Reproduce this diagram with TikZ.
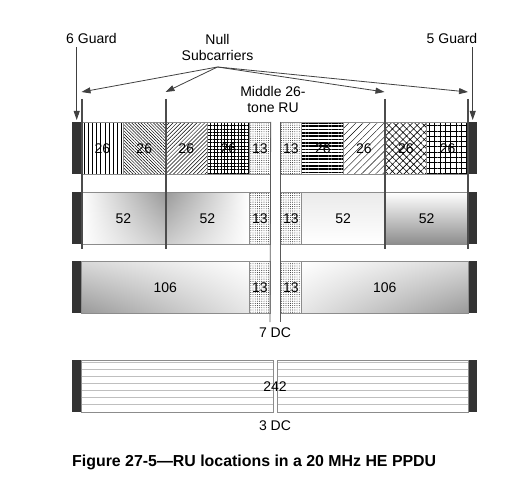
\documentclass[tikz,border=0pt]{standalone}
\usepackage{fontspec}
\setmainfont{Liberation Sans}
\usetikzlibrary{patterns.meta,arrows.meta,shadings}

\begin{document}
\begin{tikzpicture}[x=1pt,y=-1pt,
  txt/.style={font=\fontsize{14}{16.5}\selectfont},
  ru/.style={txt,draw=black!45,line width=0.7pt,inner sep=0pt,minimum height=52pt,anchor=north west},
  guard/.style={fill=black!80,inner sep=0pt,minimum width=9pt,minimum height=52pt,anchor=north west},
  tone/.style={ru,minimum width=21pt,pattern={Dots[radius=0.45pt,distance=2.2pt]}},
  pa/.style={pattern={Lines[angle=90,distance=4.2pt,line width=1pt]}},
  pb/.style={pattern={Lines[angle=-45,distance=2.2pt,line width=0.5pt]}},
  pc/.style={pattern={Lines[angle=45,distance=2.8pt,line width=0.5pt]}},
  pd/.style={pattern={Hatch[angle=0,distance=3.4pt,line width=0.9pt]}},
  pe/.style={pattern={Lines[angle=0,distance=3.3pt,line width=1.6pt]}},
  pf/.style={pattern={Lines[angle=45,distance=5pt,line width=0.4pt]}},
  pg/.style={pattern={Hatch[angle=45,distance=5pt,line width=0.6pt]}},
  ph/.style={pattern={Hatch[angle=0,distance=5.3pt,line width=0.6pt]}},
  nul/.style={black!70,line width=2pt},
  dc/.style={black!65,line width=0.8pt},
  arr/.style={black!75,line width=0.8pt,-{Triangle[length=9pt,width=6pt]}}]
  \useasboundingbox (0,0) rectangle (513,486);
  \foreach \r/\y in {1/122,2/192,3/261,4/360} {
    \node[guard] (gl\r) at (72,\y) {};
    \node[guard] (gr\r) at (468,\y) {};
  }
  \foreach \n/\x/\p in {a/81/pa,b/123/pb,c/165/pc,d/207/pd,e/301/pe,f/342.75/pf,g/384.5/pg,h/426.25/ph}
    \node[ru,\p,minimum width=42pt] (r1\n) at (\x,122) {26};
  \node[tone] (t1l) at (249,122) {13};
  \node[tone] (t1r) at (280,122) {13};

  \node[ru,shade,minimum width=84pt,upper left=white,upper right=black!40,lower left=white,lower right=black!20] (r2a) at (81,192) {52};
  \node[ru,shade,minimum width=84pt,upper left=black!40,upper right=white,lower left=black!20,lower right=white] (r2b) at (165,192) {52};
  \node[tone] (t2l) at (249,192) {13};
  \node[tone] (t2r) at (280,192) {13};
  \node[ru,shade,minimum width=83.5pt,top color=black!8,middle color=black!50,bottom color=white] (r2c) at (301,192) {52};
  \node[ru,shade,minimum width=83.5pt,top color=white,bottom color=black!45] (r2d) at (384.5,192) {52};

  \node[ru,shade,minimum width=168pt,upper left=black!15,upper right=white,lower left=black!40,lower right=black!10] (r3a) at (81,261) {106};
  \node[tone] (t3l) at (249,261) {13};
  \node[tone] (t3r) at (280,261) {13};
  \node[ru,shade,minimum width=167pt,upper left=white,upper right=black!15,lower left=black!10,lower right=black!40] (r3b) at (301,261) {106};

  \node[ru,minimum width=192pt] (r4a) at (81,360) {};
  \node[ru,minimum width=191pt] (r4b) at (277,360) {};
  \foreach \k in {0,...,6}
    \draw[black!25,line width=0.6pt] (81.5,362.5+7*\k) -- (272.5,362.5+7*\k) (277.5,362.5+7*\k) -- (467.5,362.5+7*\k);
  \node[txt] (l242) at (275,386.5) {242};

  \coordinate (dcl) at (270,322);
  \coordinate (dcr) at (280,322);
  \draw[dc] (t1l.north east) -- (dcl);
  \draw[dc] (t1r.north west) -- (dcr);
  \node[txt] (dc7) at (275,333) {7 DC};
  \node[txt] (dc3) at (275,426) {3 DC};

  \foreach \i/\x in {1/81.5,2/165.5,3/384.5,4/468} {
    \draw[nul] (\x,99) -- (\x,249);
    \coordinate (ns\i) at (\x,92);
  }
  \node[txt,align=center,inner xsep=0pt,inner ysep=6pt,anchor=north] (null) at (217.5,27.8) {Null\\Subcarriers};
  \foreach \i in {1,...,4}
    \draw[arr] (null.south) -- (ns\i);
  \node[txt,align=center,inner sep=0pt,anchor=north] (mid) at (273,85.8) {Middle 26-\\tone RU};

  \node[txt] (g6) at (91.5,38.5) {6 Guard};
  \node[txt] (g5) at (452,38.5) {5 Guard};
  \draw[arr,shorten >=2pt] (g6.south -| gl1) -- (gl1.north);
  \draw[arr,shorten >=2pt] (g5.south -| gr1) -- (gr1.north);

  \node[anchor=base west,inner sep=0pt,font=\bfseries\fontsize{15.9}{19}\selectfont] (cap) at (72,466) {Figure 27-5—RU locations in a 20 MHz HE PPDU};
\end{tikzpicture}
\end{document}
